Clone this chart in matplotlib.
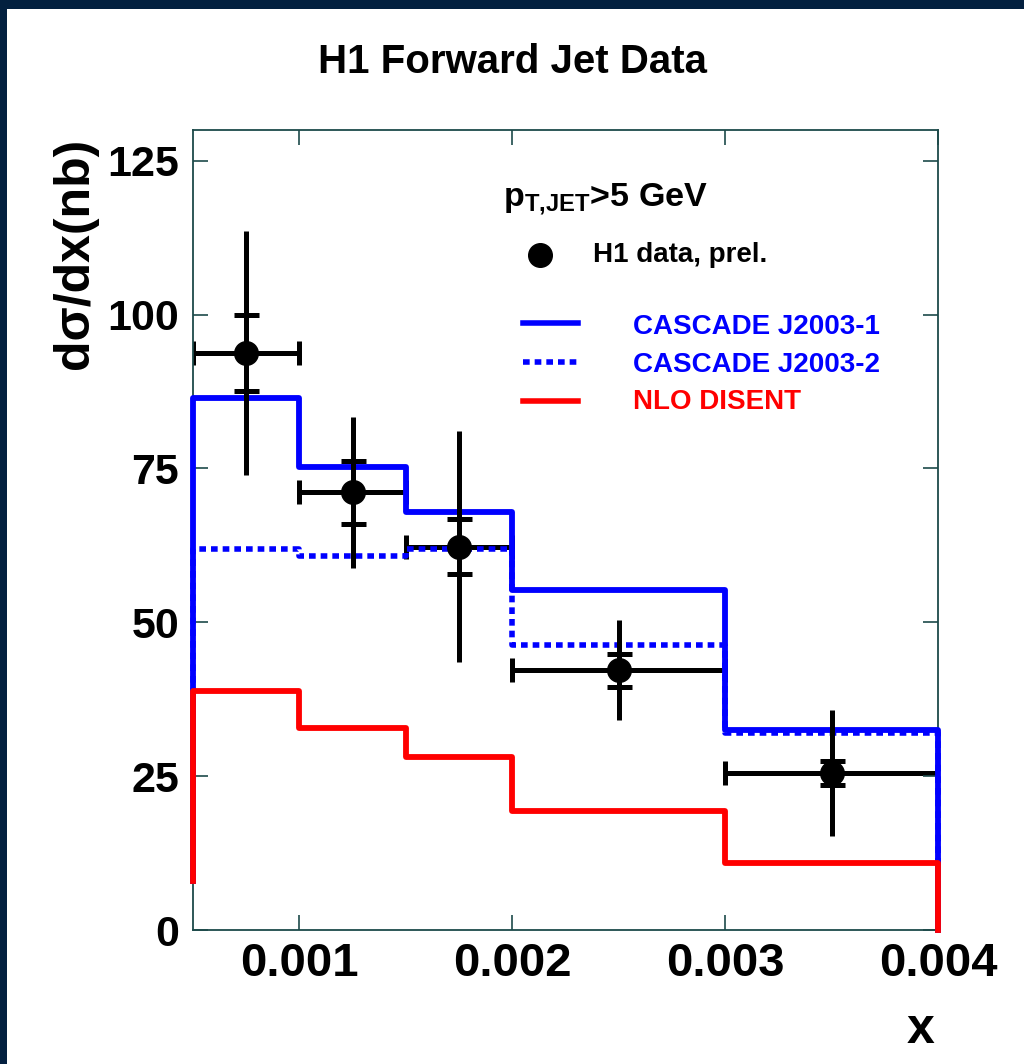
import numpy as np
import matplotlib.pyplot as plt
from matplotlib.patches import Rectangle

plt.rcParams['font.family'] = ['Liberation Sans', 'DejaVu Sans']
plt.rcParams['font.weight'] = 'bold'
plt.rcParams['mathtext.fontset'] = 'custom'
plt.rcParams['mathtext.rm'] = 'Liberation Sans:bold'
plt.rcParams['mathtext.bf'] = 'Liberation Sans:bold'

# bin edges in x
edges = np.array([0.0005, 0.001, 0.0015, 0.002, 0.003, 0.004])

# H1 data, prel.
data_x = np.array([0.00075, 0.00125, 0.00175, 0.0025, 0.0035])
data_y = np.array([93.8, 71.1, 62.3, 42.2, 25.5])
data_xerr = np.array([0.00025, 0.00025, 0.00025, 0.0005, 0.0005])
stat_err = np.array([6.2, 5.1, 4.5, 2.7, 1.9])
tot_err = np.array([19.8, 12.2, 18.8, 8.1, 10.2])

# model predictions (per bin)
cascade_1 = np.array([86.4, 75.3, 67.9, 55.2, 32.5])
cascade_2 = np.array([61.9, 60.7, 61.9, 46.3, 32.0])
nlo_disent = np.array([38.8, 32.8, 28.1, 19.3, 10.9])

yticks = [0, 25, 50, 75, 100, 125]
xticks = [0.001, 0.002, 0.003, 0.004]


def hist_outline(edges, vals, left_floor, right_floor):
        xs = np.repeat(edges, 2)
        ys = np.concatenate([[left_floor], np.repeat(vals, 2), [right_floor]])
        return xs, ys


def main():
        fig = plt.figure(figsize=(10.24, 10.64), dpi=100)
        fig.patch.set_facecolor('#03203f')
        fig.patches.append(Rectangle((7 / 1024, 0), 1, 1 - 9 / 1064,
                                     transform=fig.transFigure, facecolor='white',
                                     edgecolor='none', zorder=-10))

        ax = fig.add_axes([193 / 1024, 1 - 930 / 1064, 745 / 1024, 800 / 1064])
        ax.set_zorder(1)
        ax.set_facecolor('white')

        # x ranges of the data go under the histograms
        ax.errorbar(data_x, data_y, xerr=data_xerr, fmt='none', ecolor='black',
                    elinewidth=3.6, capsize=8.5, capthick=3.6, zorder=1.5)

        # histograms
        x, y = hist_outline(edges, cascade_2, 8, 0)
        ax.plot(x, y, color='#0000ff', lw=4, ls=(0, (1.2, 0.9)), zorder=2,
                clip_on=False)
        x, y = hist_outline(edges, cascade_1, 8, 0)
        ax.plot(x, y, color='#0000ff', lw=4.2, zorder=3, clip_on=False)
        x, y = hist_outline(edges, nlo_disent, 8, 0)
        ax.plot(x, y, color='#ff0000', lw=4.2, zorder=4, clip_on=False)

        # data points: total errors and stat ticks
        ax.errorbar(data_x, data_y, yerr=tot_err, fmt='none', ecolor='black',
                    elinewidth=3.6, capsize=0, zorder=5)
        ax.errorbar(data_x, data_y, yerr=stat_err, fmt='o', color='black',
                    ms=17, elinewidth=3.6, capsize=9, capthick=3.6, zorder=6)

        ax.set_xlim(0.0005, 0.004)
        ax.set_ylim(0, 130)
        ax.set_xticks(xticks)
        ax.set_xticklabels(['0.001', '0.002', '0.003', '0.004'])
        ax.set_yticks(yticks)
        ax.tick_params(direction='in', top=True, right=True, length=11,
                       width=1.2, color='#1d4a4a')
        ax.tick_params(axis='x', labelsize=34, pad=9)
        ax.tick_params(axis='y', labelsize=31, pad=10)
        for lab in ax.get_xticklabels() + ax.get_yticklabels():
                lab.set_fontweight('bold')
        for sp in ax.spines.values():
                sp.set_linewidth(1.3)
                sp.set_color('#1d4a4a')

        fig.text(513 / 1024, 1 - 62 / 1064, 'H1 Forward Jet Data', ha='center',
                 va='center', fontsize=29, fontweight='bold', zorder=2)
        ax.text(-0.158, 0.99, 'dσ/dx(nb)', rotation=90, ha='center', va='top',
                transform=ax.transAxes, fontsize=36, fontweight='bold')
        ax.text(0.976, -0.125, 'x', ha='center', va='center',
                transform=ax.transAxes, fontsize=36, fontweight='bold')

        # legend block
        ax.text(0.416, 0.904, r'$\mathbf{p}_{\mathbf{T{,}JET}}$>5 GeV', ha='left',
                va='baseline', transform=ax.transAxes, fontsize=24.5,
                fontweight='bold')
        ax.plot([0.466], [0.844], 'o', color='black', ms=17, transform=ax.transAxes)
        ax.text(0.537, 0.844, 'H1 data, prel.', ha='left', va='center',
                transform=ax.transAxes, fontsize=20, fontweight='bold')
        entries = [('CASCADE J2003-1', '#0000ff', '-', 0.759, 0.754),
                   ('CASCADE J2003-2', '#0000ff', (0, (1.2, 0.9)), 0.710, 0.706),
                   ('NLO DISENT', '#ff0000', '-', 0.661, 0.660)]
        for label, col, ls, yl, yt in entries:
                ax.plot([0.443, 0.517], [yl, yl], color=col, ls=ls, lw=4,
                        transform=ax.transAxes)
                ax.text(0.591, yt, label, color=col, ha='left', va='center',
                        transform=ax.transAxes, fontsize=20, fontweight='bold')

        fig.savefig('out.png', dpi=100, facecolor=fig.get_facecolor())


if __name__ == '__main__':
        main()
